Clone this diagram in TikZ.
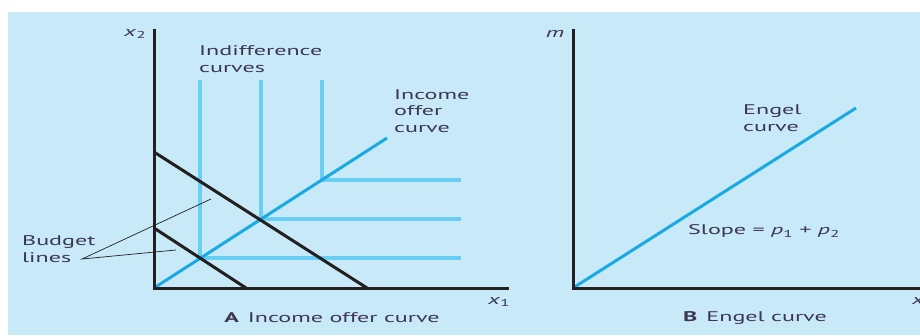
\documentclass[tikz,border=0pt]{standalone}
\usepackage{fontspec}
\setmainfont{PT Sans}[FakeStretch=1.72]
\definecolor{ecbg}{RGB}{200,233,248}
\definecolor{ecaxis}{RGB}{35,31,32}
\definecolor{ecblue}{RGB}{27,169,228}
\definecolor{eclight}{RGB}{104,206,244}
\definecolor{ectext}{RGB}{60,54,80}
\usetikzlibrary{positioning}
\newcommand{\vsub}[2]{\textit{#1}\raisebox{-0.4ex}{\fontsize{10}{10}\selectfont #2}}
\tikzset{
  axis/.style={draw=ecaxis, line width=3pt},
  budget/.style={draw=ecaxis, line width=3pt},
  offer/.style={draw=ecblue, line width=3pt},
  indiff/.style={draw=eclight, line width=4pt},
  pointer/.style={draw=ecaxis, line width=0.7pt},
  lbl/.style={font=\fontsize{14}{16.5}\selectfont, text=ectext, align=left, inner sep=0pt},
  axlbl/.style={font=\fontsize{14}{14}\selectfont, text=ectext, inner sep=0pt},
}

\begin{document}
\begin{tikzpicture}[x=1pt, y=-1pt]
  \useasboundingbox (0,0) rectangle (920,335);
  % Background
  \fill[ecbg] (8,12) rectangle (920,335);

  % Panel A: points
  \coordinate (oA) at (154,288);
  \coordinate (yA) at (154,29);
  \coordinate (xA) at (509,288);
  \coordinate (b1y) at (154,152);
  \coordinate (b1x) at (367,288);
  \coordinate (b2y) at (154,228);
  \coordinate (b2x) at (246,288);
  \coordinate (ioc) at (387,138);
  % Indifference curves (kinks on the offer curve)
  \foreach \n/\kx/\ky in {1/200/258, 2/261/219, 3/322/180}{
    \coordinate (k\n) at (\kx,\ky);
    \coordinate (t\n) at (\kx,80);
    \coordinate (r\n) at (461,\ky);
    \draw[indiff, line join=miter] (t\n) -- (k\n) -- (r\n);
  }
  % Offer curve and budget lines
  \draw[offer] (oA) -- (ioc);
  \draw[budget] (b1y) -- (b1x);
  \draw[budget] (b2y) -- (b2x);
  % Axes
  \draw[axis] (yA) -- (oA) -- (xA);
  \node[axlbl] (x2A) at (135,34) {\vsub{x}{2}};
  \node[axlbl] (x1A) at (499,302) {\vsub{x}{1}};

  % Labels
  \node[lbl, anchor=west] (indlbl) at (199,59) {Indifference\\curves};
  \node[lbl, anchor=west] (ioclbl) at (394,111) {Income\\offer\\curve};
  \node[lbl, anchor=west] (bllbl) at (22,249) {Budget\\lines};
  \coordinate (bltip) at (82,259);
  \coordinate (p1) at (211,199);
  \coordinate (p2) at (176,250);
  \draw[pointer] (p1) -- (bltip) -- (p2);
  \node[lbl] (capA) at (332,318) {\textbf{A}\hspace{9pt}Income offer curve};

  % Panel B
  \coordinate (oB) at (573,288);
  \coordinate (yB) at (573,29);
  \coordinate (xB) at (930,288);
  \coordinate (eng) at (856,108);
  \draw[offer] (oB) -- (eng);
  \draw[axis] (yB) -- (oB) -- (xB);
  \node[axlbl] (mB) at (555,34) {\textit{m}};
  \node[axlbl, anchor=west] (x1B) at (912,302) {\vsub{x}{1}};
  \node[lbl, anchor=west] (englbl) at (743,118) {Engel\\curve};
  \node[lbl, anchor=west] (slope) at (688,231) {Slope = \vsub{p}{1} + \vsub{p}{2}};
  \node[lbl] (capB) at (755,318) {\textbf{B}\hspace{9pt}Engel curve};
\end{tikzpicture}
\end{document}
